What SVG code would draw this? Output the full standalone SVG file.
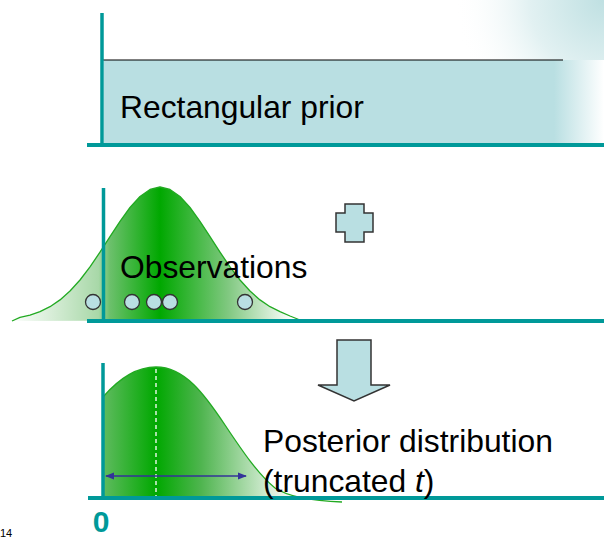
<svg xmlns="http://www.w3.org/2000/svg" width="604" height="540" viewBox="0 0 604 540">
<defs>
<style>
.axis{stroke:#009999;stroke-width:4;fill:none}
.vaxis{stroke:#009999;stroke-width:3.5;fill:none}
.lbl{font-family:"Liberation Sans",Arial,sans-serif;font-size:31.8px;fill:#000}
.light{fill:#b9dfe2;stroke:#333;stroke-width:1.5}
.dot{fill:#b9dfe2;stroke:#333;stroke-width:1.3}
</style>
<radialGradient id="glow" cx="604" cy="0" r="150" gradientUnits="userSpaceOnUse">
<stop offset="0" stop-color="#bfe0e2"/>
<stop offset="0.5" stop-color="#e2f1f2"/>
<stop offset="1" stop-color="#ffffff" stop-opacity="0"/>
</radialGradient>
<linearGradient id="rectfade" x1="104" y1="0" x2="604" y2="0" gradientUnits="userSpaceOnUse">
<stop offset="0" stop-color="#b9dfe2"/>
<stop offset="0.9" stop-color="#b9dfe2"/>
<stop offset="1" stop-color="#ffffff"/>
</linearGradient>
<linearGradient id="g1" x1="12" y1="0" x2="300" y2="0" gradientUnits="userSpaceOnUse">
<stop offset="0" stop-color="#ffffff"/>
<stop offset="0.3" stop-color="#a8d8a8"/>
<stop offset="0.34" stop-color="#6cc06c"/>
<stop offset="0.514" stop-color="#00a800"/>
<stop offset="0.75" stop-color="#80c880"/>
<stop offset="0.97" stop-color="#ffffff"/>
</linearGradient>
<linearGradient id="g2" x1="103" y1="0" x2="300" y2="0" gradientUnits="userSpaceOnUse">
<stop offset="0" stop-color="#60bb60"/>
<stop offset="0.27" stop-color="#00a800"/>
<stop offset="0.5" stop-color="#50b550"/>
<stop offset="0.85" stop-color="#d8eed8"/>
<stop offset="1" stop-color="#ffffff"/>
</linearGradient>
<marker id="ah" viewBox="0 0 10 10" refX="9" refY="5" markerWidth="7" markerHeight="7" orient="auto-start-reverse">
<path d="M0,1 L10,5 L0,9 z" fill="#333399"/>
</marker>
</defs>
<rect width="604" height="540" fill="#ffffff"/>
<rect x="420" y="0" width="184" height="160" fill="url(#glow)"/>

<g id="panel-prior">
<rect x="104" y="60" width="500" height="84" fill="url(#rectfade)"/>
<line x1="101" y1="60" x2="563" y2="60" stroke="#000" stroke-width="1.2"/>
<line class="vaxis" x1="102" y1="13" x2="102" y2="145"/>
<line class="axis" x1="87" y1="145" x2="604" y2="145"/>
<text class="lbl" x="120" y="118">Rectangular prior</text>
</g>

<g id="panel-observations">
<path d="M12,321 L20,317.4 L30,315.1 L40,311.6 L50,306.7 L60,299.9 L70,291 L80,280 L90,266.9 L100,252.1 L110,236.6 L120,221.3 L130,207.5 L140,196.5 L150,189.5 L160,187 L170,189.5 L180,196.5 L190,207.5 L200,221.3 L210,236.6 L220,252.1 L230,266.9 L240,280 L250,291 L260,299.9 L270,306.7 L280,311.6 L290,316 L300,320" fill="url(#g1)" stroke="#22aa22" stroke-width="1.3" stroke-linejoin="round"/>
<line class="vaxis" x1="103.5" y1="188" x2="103.5" y2="321"/>
<line class="axis" x1="87" y1="321" x2="604" y2="321"/>
<text class="lbl" x="120" y="278">Observations</text>
<circle class="dot" cx="93" cy="302" r="7.5"/>
<circle class="dot" cx="132" cy="302" r="7.5"/>
<circle class="dot" cx="154" cy="302" r="7.5"/>
<circle class="dot" cx="170" cy="302" r="7.5"/>
<circle class="dot" cx="245" cy="302" r="7.5"/>
</g>

<g id="plus-sign">
<path class="light" d="M345,204 H364 V213 H373 V232 H364 V242 H345 V232 H336 V213 H345 Z"/>
</g>

<g id="panel-posterior">
<path d="M103,498 L103,397 C116,382 135,367 156,367 C185,367 205,395 225,425 C243,452 258,474 275,488 C290,498 315,501 342,502 L300,498 Z" fill="url(#g2)" stroke="none"/>
<path d="M103,397 C116,382 135,367 156,367 C185,367 205,395 225,425 C243,452 258,474 275,488 C290,498 315,501 342,502" fill="none" stroke="#22aa22" stroke-width="1.3"/>
<line x1="156" y1="369" x2="156" y2="497" stroke="#ffffff" stroke-width="1.3" stroke-dasharray="4,3"/>
<line class="vaxis" x1="103" y1="363" x2="103" y2="498"/>
<line class="axis" x1="88" y1="498" x2="604" y2="498"/>
<line x1="106" y1="476" x2="246" y2="476" stroke="#333399" stroke-width="1.3" marker-start="url(#ah)" marker-end="url(#ah)"/>
<text class="lbl" x="263" y="452">Posterior distribution</text>
<text class="lbl" x="263" y="492">(truncated <tspan font-style="italic">t</tspan>)</text>
<text x="101" y="532" text-anchor="middle" font-family="Liberation Sans, Arial, sans-serif" font-weight="bold" font-size="30" fill="#009999">0</text>
</g>

<g id="connectors">
<path class="light" d="M337,340 H371 V385 H390 L354,401 L318,385 H337 Z" stroke-width="1.2"/>
</g>

<text x="0" y="537" font-family="Liberation Sans, Arial, sans-serif" font-size="11" fill="#000">14</text>
</svg>
